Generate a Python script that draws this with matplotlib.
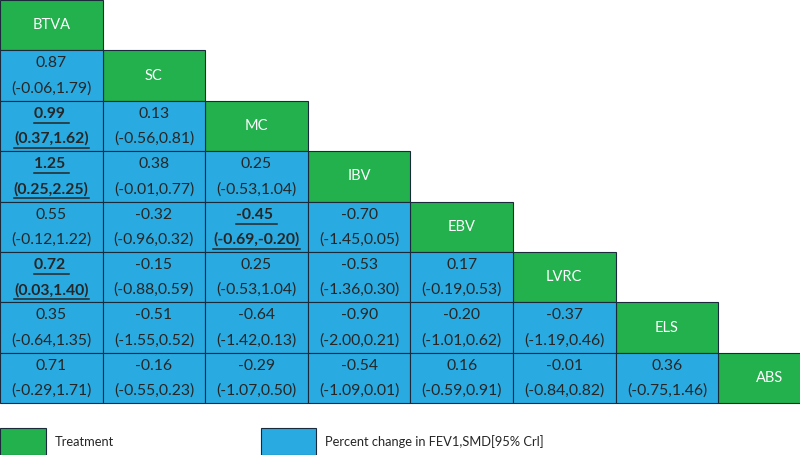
import matplotlib.pyplot as plt
from matplotlib.patches import Rectangle

treatments = ['BTVA', 'SC', 'MC', 'IBV', 'EBV', 'LVRC', 'ELS', 'ABS']

# lower triangle, row i holds comparisons with columns 0..i-1
estimates = [
    [],
    ['0.87'],
    ['0.99', '0.13'],
    ['1.25', '0.38', '0.25'],
    ['0.55', '-0.32', '-0.45', '-0.70'],
    ['0.72', '-0.15', '0.25', '-0.53', '0.17'],
    ['0.35', '-0.51', '-0.64', '-0.90', '-0.20', '-0.37'],
    ['0.71', '-0.16', '-0.29', '-0.54', '0.16', '-0.01', '0.36'],
]
lower = [
    [],
    ['-0.06'],
    ['0.37', '-0.56'],
    ['0.25', '-0.01', '-0.53'],
    ['-0.12', '-0.96', '-0.69', '-1.45'],
    ['0.03', '-0.88', '-0.53', '-1.36', '-0.19'],
    ['-0.64', '-1.55', '-1.42', '-2.00', '-1.01', '-1.19'],
    ['-0.29', '-0.55', '-1.07', '-1.09', '-0.59', '-0.84', '-0.75'],
]
upper = [
    [],
    ['1.79'],
    ['1.62', '0.81'],
    ['2.25', '0.77', '1.04'],
    ['1.22', '0.32', '-0.20', '0.05'],
    ['1.40', '0.59', '1.04', '0.30', '0.53'],
    ['1.35', '0.52', '0.13', '0.21', '0.62', '0.46'],
    ['1.71', '0.23', '0.50', '0.01', '0.91', '0.82', '1.46'],
]
legend_labels = ['Treatment', 'Percent change in FEV1,SMD[95% Crl]']

GREEN = '#22b14c'
BLUE = '#29abe2'
TXT = '#262626'
EDGE = '#1a2a3a'
FONT = 'Lato'

cw, ch = 102.6, 50.4

fig = plt.figure(figsize=(8, 4.55), dpi=100)
ax = fig.add_axes([0, 0, 1, 1])
ax.set_xlim(0, 800)
ax.set_ylim(455, 0)
ax.axis('off')

underlines = []
for i, name in enumerate(treatments):
    y0 = i * ch
    ax.add_patch(Rectangle((i * cw, y0), cw, ch, facecolor=GREEN,
                           edgecolor=EDGE, linewidth=0.8))
    ax.text(i * cw + cw / 2, y0 + ch / 2, name, color='white', fontsize=10.5,
            family=FONT, ha='center', va='center')
    for j in range(i):
        x0 = j * cw
        ax.add_patch(Rectangle((x0, y0), cw, ch, facecolor=BLUE,
                               edgecolor=EDGE, linewidth=0.8))
        lo, hi = float(lower[i][j]), float(upper[i][j])
        sig = lo > 0 or hi < 0
        w = 'bold' if sig else 'normal'
        t1 = ax.text(x0 + cw / 2, y0 + 13, estimates[i][j] + (' ' if sig else ''),
                     color=TXT, fontsize=11.3, family=FONT, weight=w,
                     ha='center', va='center')
        t2 = ax.text(x0 + cw / 2, y0 + 38, '(%s,%s)' % (lower[i][j], upper[i][j]),
                     color=TXT, fontsize=11.3, family=FONT, weight=w,
                     ha='center', va='center')
        if sig:
            underlines += [(t1, y0 + 22), (t2, y0 + 47)]

# legend
ax.add_patch(Rectangle((0, 428), 46, 27, facecolor=GREEN, edgecolor=EDGE, linewidth=0.8))
ax.text(55, 442, legend_labels[0], color=TXT, fontsize=9.3, family=FONT, va='center')
ax.add_patch(Rectangle((261, 428), 55, 27, facecolor=BLUE, edgecolor=EDGE, linewidth=0.8))
ax.text(325, 442, legend_labels[1], color=TXT, fontsize=9.3, family=FONT, va='center')

# underline the significant cells
fig.canvas.draw()
r = fig.canvas.get_renderer()
inv = ax.transData.inverted()
for t, yl in underlines:
    bb = t.get_window_extent(r)
    xa = inv.transform((bb.x0, bb.y0))[0]
    xb = inv.transform((bb.x1, bb.y0))[0]
    ax.plot([xa, xb], [yl, yl], color=TXT, linewidth=1.1)

fig.savefig('out.png', dpi=100)
